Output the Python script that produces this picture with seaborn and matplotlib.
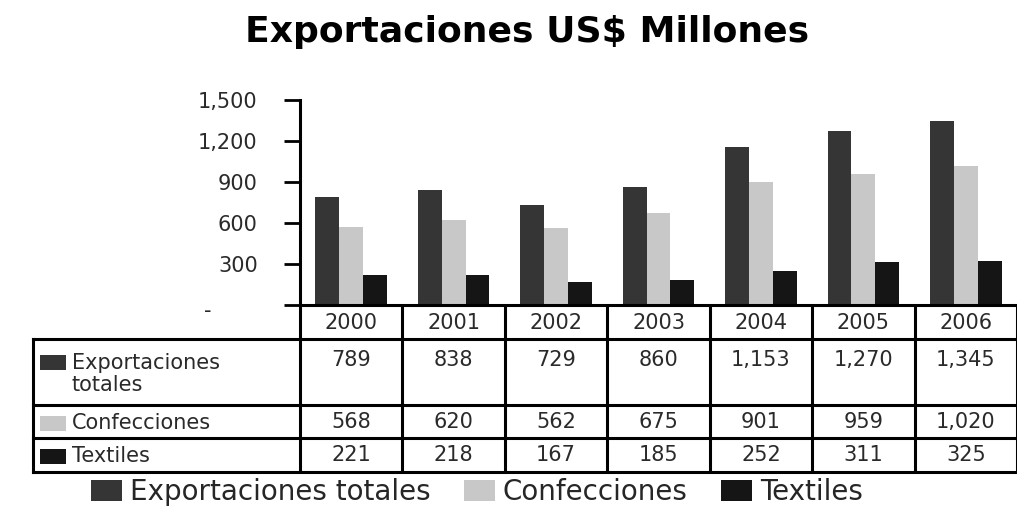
import matplotlib
matplotlib.use("Agg")
import matplotlib.pyplot as plt
import matplotlib.transforms as mtransforms
from matplotlib.patches import Rectangle
import seaborn as sns
import pandas as pd

# ---------------- data ----------------
years = ["2000", "2001", "2002", "2003", "2004", "2005", "2006"]
series_names = ["Exportaciones totales", "Confecciones", "Textiles"]
exportaciones_totales = [789, 838, 729, 860, 1153, 1270, 1345]
confecciones = [568, 620, 562, 675, 901, 959, 1020]
textiles = [221, 218, 167, 185, 252, 311, 325]
row_labels = ["Exportaciones\ntotales", "Confecciones", "Textiles"]
y_ticks = [0, 300, 600, 900, 1200, 1500]
title = "Exportaciones US$ Millones"

colors = ["#353535", "#c8c8c8", "#151515"]

series_values = [exportaciones_totales, confecciones, textiles]
df = pd.DataFrame({
    "year": [y for _ in series_names for y in years],
    "serie": [s for s in series_names for _ in years],
    "valor": [v for vals in series_values for v in vals],
})

sns.set_theme(style="white")
plt.rcParams["font.family"] = ["DejaVu Sans"]

W, H = 1017, 508
fig = plt.figure(figsize=(W / 100, H / 100), dpi=100)

# main axes (pixel layout)
ax = fig.add_axes([300 / W, 1 - 305 / H, 717 / W, 205 / H])
sns.barplot(data=df, x="year", y="valor", hue="serie", order=years,
            hue_order=series_names, palette=colors, saturation=1,
            width=0.7, linewidth=0, ax=ax, legend=True)
ax.set_xlim(-0.5, len(years) - 0.5)
ax.set_ylim(0, 1500)
ax.set_yticks(y_ticks)
ax.set_yticklabels(["-" if t == 0 else f"{t:,}" for t in y_ticks])
ax.set_xlabel("")
ax.set_ylabel("")
ax.set_xticks([])
for s in ["top", "right"]:
    ax.spines[s].set_visible(False)
for s in ["left", "bottom"]:
    ax.spines[s].set_linewidth(2.2)
    ax.spines[s].set_color("black")
ax.tick_params(axis="y", which="major", direction="out", length=11.5,
               width=2.0, color="black", pad=19, labelsize=15,
               labelcolor="#2a2a2a", left=True)
# accounting-style dash for zero
for lab in ax.get_yticklabels():
    if lab.get_text() == "-":
        lab.set_transform(lab.get_transform() +
                          mtransforms.ScaledTranslation(-46 / 100, -4 / 100, fig.dpi_scale_trans))

handles, labels = ax.get_legend_handles_labels()
ax.get_legend().remove()

# ---------------- data table ----------------
tax = fig.add_axes([300 / W, 1 - 472 / H, 717 / W, 167 / H], sharex=ax)
tax.set_ylim(167, 0)
tax.axis("off")
row_bounds = [0, 34, 100, 133, 167]  # header, row1, row2, row3 (layout in px)
lw = 2.2
blend = mtransforms.blended_transform_factory(fig.transFigure, tax.transData)
x_left = 33 / W
x_right = 1.0
for yb in row_bounds[1:]:
    tax.plot([x_left, x_right], [yb, yb], color="black", lw=lw,
             transform=blend, clip_on=False, solid_capstyle="projecting")
tax.plot([x_left, x_left], [row_bounds[1], row_bounds[-1]], color="black",
         lw=lw, transform=blend, clip_on=False, solid_capstyle="projecting")
for i in range(len(years) + 1):
    tax.plot([i - 0.5, i - 0.5], [0, row_bounds[-1]], color="black", lw=lw,
             clip_on=False)

tcolor = "#2a2a2a"
fs = 15
for i, y in enumerate(years):
    tax.text(i, 18, y, ha="center", va="center", fontsize=fs, color=tcolor)
value_y = [55, 117, 150]
for r, vals in enumerate(series_values):
    for i, v in enumerate(vals):
        tax.text(i, value_y[r], f"{v:,}", ha="center", va="center",
                 fontsize=fs, color=tcolor)
label_y = [69, 118, 151]
for r, lab in enumerate(row_labels):
    tax.text(72 / W, label_y[r], lab, ha="left", va="center", fontsize=fs,
             color=tcolor, transform=blend, linespacing=1.1)
    sq_y = [57, 118, 151][r]
    tax.add_patch(Rectangle((40 / W, sq_y - 7.5), 26 / W, 15, facecolor=colors[r],
                            edgecolor="none", transform=blend, clip_on=False))

# ---------------- title & legend ----------------
fig.text(527 / W, 1 - 32 / H, title, ha="center", va="center",
         fontsize=26, fontweight="bold", color="black")
fig.legend(handles, labels, loc="center", bbox_to_anchor=(477 / W, 1 - 492 / H),
           ncol=3, frameon=False, fontsize=20, handlelength=1.1,
           handleheight=0.8, handletextpad=0.3, columnspacing=1.2,
           borderaxespad=0, borderpad=0)

fig.savefig("out.png", dpi=100)
